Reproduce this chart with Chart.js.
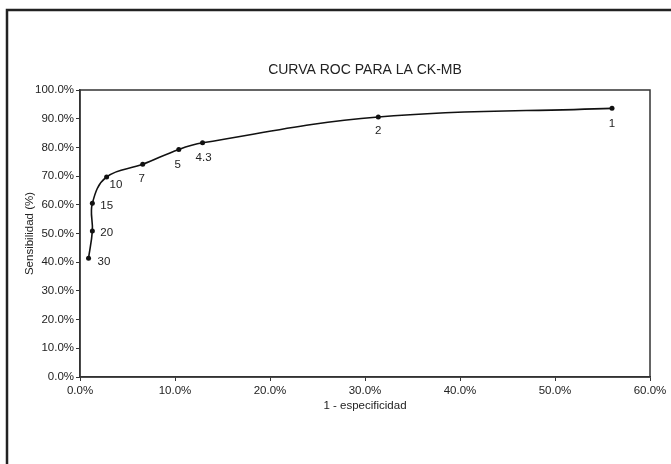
<!DOCTYPE html>
<html>
<head>
<meta charset="utf-8">
<script src="https://cdn.jsdelivr.net/npm/chart.js@4"></script>
<style>
  html, body { margin: 0; padding: 0; background: #fff; }
  #wrap { width: 671px; height: 464px; }
</style>
</head>
<body>
<div id="wrap"><canvas id="rocChart" width="671" height="464"></canvas></div>
<script>
// punto de corte (ng/mL) for each point
const cutoffs = ["30", "20", "15", "10", "7", "5", "4.3", "2", "1"];
// 1 - especificidad (%)
const falsePos = [0.9, 1.3, 1.3, 2.8, 6.6, 10.4, 12.9, 31.4, 56.0];
// sensibilidad (%)
const sensitivity = [41.4, 50.9, 60.5, 69.7, 74.1, 79.3, 81.6, 90.6, 93.6];
const chartTitle = 'CURVA ROC PARA LA CK-MB';

const points = falsePos.map((x, i) => ({ x: x, y: sensitivity[i] }));
const ink = '#222';
const font = 'Arial, "Liberation Sans", Helvetica, sans-serif';

// frame around whole picture, box around plot area, title over the plot
const framePlugin = {
  id: 'frame',
  beforeDraw(chart) {
    const c = chart.ctx;
    c.save();
    c.fillStyle = '#fff';
    c.fillRect(0, 0, chart.width, chart.height);
    c.strokeStyle = ink;
    c.lineWidth = 2.5;
    c.beginPath();
    c.moveTo(7, chart.height);
    c.lineTo(7, 10);
    c.lineTo(chart.width, 10);
    c.stroke();
    c.restore();
  },
  afterDraw(chart) {
    const a = chart.chartArea;
    const c = chart.ctx;
    c.save();
    c.strokeStyle = '#333';
    c.lineWidth = 1.5;
    c.strokeRect(a.left, a.top, a.right - a.left, a.bottom - a.top);
    c.font = '14px ' + font;
    c.fillStyle = ink;
    c.textAlign = 'center';
    c.textBaseline = 'middle';
    c.fillText(chartTitle, (a.left + a.right) / 2, a.top - 20);
    c.restore();
  }
};

// cut-off labels beside each point
const cutoffLabels = {
  id: 'cutoffLabels',
  afterDatasetsDraw(chart, args, opts) {
    const c = chart.ctx;
    const meta = chart.getDatasetMeta(0);
    c.save();
    c.font = '11.5px ' + font;
    c.fillStyle = ink;
    c.textBaseline = 'middle';
    meta.data.forEach((pt, i) => {
      const off = opts.offsets[i];
      c.textAlign = off[2];
      c.fillText(cutoffs[i], pt.x + off[0], pt.y + off[1]);
    });
    c.restore();
  }
};

new Chart(document.getElementById('rocChart'), {
  type: 'line',
  data: {
    datasets: [{
      label: 'CK-MB',
      data: points,
      borderColor: '#111',
      backgroundColor: '#111',
      borderWidth: 1.6,
      pointRadius: 2.5,
      pointBackgroundColor: '#111',
      pointBorderWidth: 0,
      tension: 0.4,
      fill: false
    }]
  },
  options: {
    responsive: false,
    animation: false,
    layout: { padding: { left: 20, right: 21, top: 90, bottom: 47 } },
    scales: {
      x: {
        type: 'linear',
        min: 0,
        max: 60,
        afterFit: s => { s.height = 40; },
        border: { color: '#333', width: 1.5 },
        grid: { drawOnChartArea: false, drawTicks: true, tickLength: 4, color: '#333' },
        ticks: {
          stepSize: 10,
          padding: 3,
          color: ink,
          font: { family: font, size: 11.5 },
          callback: v => v.toFixed(1) + '%'
        },
        title: {
          display: true,
          text: '1 - especificidad',
          color: ink,
          font: { family: font, size: 11.5 },
          padding: { top: 0, bottom: 4 }
        }
      },
      y: {
        min: 0,
        max: 100,
        afterFit: s => { s.width = 60; },
        border: { color: '#333', width: 1.5 },
        grid: { drawOnChartArea: false, drawTicks: true, tickLength: 4, color: '#333' },
        ticks: {
          stepSize: 10,
          padding: 2,
          color: ink,
          font: { family: font, size: 11.5 },
          callback: v => v.toFixed(1) + '%'
        },
        title: {
          display: true,
          text: 'Sensibilidad (%)',
          color: ink,
          font: { family: font, size: 11.5 },
          padding: { top: 3, bottom: 0 }
        }
      }
    },
    plugins: {
      legend: { display: false },
      tooltip: { enabled: false },
      title: { display: false },
      cutoffLabels: {
        offsets: [
          [9, 4, 'left'], [8, 2, 'left'], [8, 2, 'left'], [3, 8, 'left'],
          [-1, 14, 'center'], [-1, 15, 'center'], [1, 15, 'center'],
          [0, 14, 'center'], [0, 15, 'center']
        ]
      }
    }
  },
  plugins: [framePlugin, cutoffLabels]
});
</script>
</body>
</html>
